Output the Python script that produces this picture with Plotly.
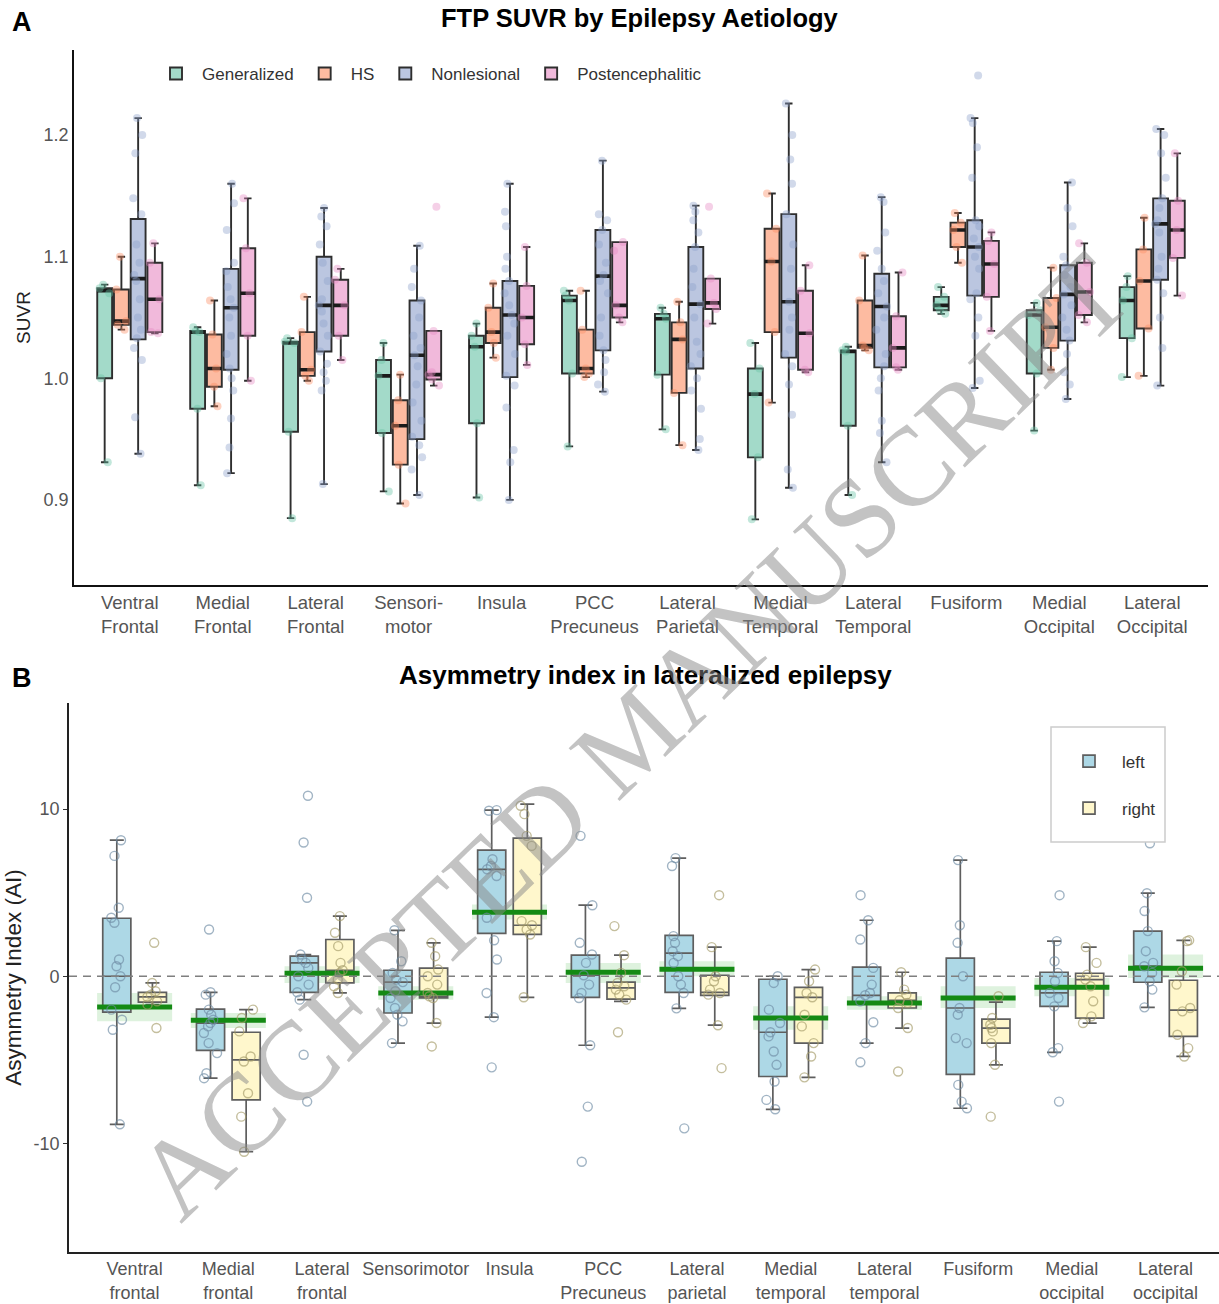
import plotly.graph_objects as go

W, H = 1219, 1304

# ---------------- Panel A data ----------------
top_labels = ["Ventral<br>Frontal", "Medial<br>Frontal", "Lateral<br>Frontal", "Sensori-<br>motor",
              "Insula", "PCC<br>Precuneus", "Lateral<br>Parietal", "Medial<br>Temporal",
              "Lateral<br>Temporal", "Fusiform", "Medial<br>Occipital", "Lateral<br>Occipital"]
groups = ["Generalized", "HS", "Nonlesional", "Postencephalitic"]

gen_lf = [0.931, 0.912, 0.885, 0.907, 0.902, 0.944, 0.958, 0.884, 0.904, 1.053, 0.957, 1.001]
gen_q1 = [1.000, 0.975, 0.956, 0.955, 0.963, 1.004, 1.003, 0.935, 0.961, 1.056, 1.004, 1.033]
gen_md = [1.072, 1.038, 1.029, 1.002, 1.026, 1.064, 1.049, 0.987, 1.022, 1.060, 1.052, 1.064]
gen_q3 = [1.074, 1.039, 1.030, 1.015, 1.035, 1.068, 1.053, 1.008, 1.023, 1.067, 1.056, 1.075]
gen_uf = [1.077, 1.042, 1.033, 1.029, 1.045, 1.072, 1.058, 1.029, 1.026, 1.075, 1.062, 1.084]

hs_lf = [1.040, 0.977, 0.998, 0.897, 1.017, 1.001, 0.945, 0.980, 1.023, 1.095, 1.007, 1.002]
hs_q1 = [1.044, 0.993, 1.002, 0.929, 1.029, 1.004, 0.988, 1.038, 1.025, 1.108, 1.025, 1.041]
hs_md = [1.047, 1.008, 1.007, 0.961, 1.038, 1.008, 1.032, 1.096, 1.027, 1.122, 1.042, 1.080]
hs_q3 = [1.073, 1.036, 1.038, 0.982, 1.058, 1.040, 1.046, 1.123, 1.064, 1.128, 1.066, 1.106]
hs_uf = [1.100, 1.064, 1.067, 1.003, 1.078, 1.072, 1.063, 1.152, 1.101, 1.136, 1.091, 1.132]

non_lf = [0.938, 0.922, 0.913, 0.904, 0.900, 0.989, 0.941, 0.910, 0.931, 0.992, 0.983, 0.994]
non_q1 = [1.032, 1.007, 1.022, 0.950, 1.001, 1.023, 1.008, 1.017, 1.009, 1.068, 1.031, 1.081]
non_md = [1.082, 1.058, 1.060, 1.019, 1.052, 1.084, 1.061, 1.063, 1.059, 1.108, 1.069, 1.127]
non_q3 = [1.131, 1.090, 1.100, 1.064, 1.080, 1.122, 1.108, 1.135, 1.086, 1.130, 1.093, 1.148]
non_uf = [1.214, 1.160, 1.140, 1.109, 1.160, 1.179, 1.142, 1.226, 1.149, 1.214, 1.161, 1.205]

post_lf = [1.037, 0.998, 1.015, 0.994, 1.011, 1.046, 1.045, 1.005, 1.007, 1.039, 1.046, 1.068]
post_q1 = [1.038, 1.035, 1.035, 0.999, 1.028, 1.050, 1.057, 1.007, 1.009, 1.067, 1.052, 1.099]
post_md = [1.065, 1.070, 1.060, 1.003, 1.050, 1.060, 1.062, 1.037, 1.025, 1.094, 1.071, 1.122]
post_q3 = [1.095, 1.107, 1.081, 1.039, 1.076, 1.112, 1.082, 1.072, 1.051, 1.113, 1.095, 1.146]
post_uf = [1.111, 1.148, 1.090, 1.039, 1.108, 1.112, 1.082, 1.093, 1.087, 1.120, 1.111, 1.185]

gen_pts = [[0.931, 1.000, 1.070, 1.074, 1.077], [0.912, 0.975, 1.038, 1.039, 1.042],
           [0.885, 0.956, 1.029, 1.030, 1.033], [0.907, 0.955, 1.002, 1.015, 1.029],
           [0.902, 0.963, 1.026, 1.035, 1.045], [0.944, 1.004, 1.064, 1.068, 1.072],
           [0.958, 1.003, 1.049, 1.053, 1.058], [0.884, 0.935, 0.987, 1.008, 1.029],
           [0.904, 0.961, 1.022, 1.023, 1.026], [1.053, 1.056, 1.060, 1.067, 1.075],
           [0.957, 1.004, 1.052, 1.056, 1.062], [1.001, 1.033, 1.064, 1.075, 1.084]]
hs_pts = [[1.040, 1.044, 1.047, 1.073, 1.100], [0.977, 0.993, 1.008, 1.036, 1.064],
          [0.998, 1.002, 1.007, 1.038, 1.067], [0.897, 0.929, 0.961, 0.982, 1.003],
          [1.017, 1.029, 1.038, 1.058, 1.078], [1.001, 1.004, 1.008, 1.040, 1.072],
          [0.945, 0.988, 1.032, 1.046, 1.063], [0.980, 1.038, 1.096, 1.123, 1.152],
          [1.023, 1.025, 1.027, 1.064, 1.101], [1.095, 1.108, 1.122, 1.128, 1.136],
          [1.007, 1.025, 1.042, 1.066, 1.091], [1.002, 1.041, 1.080, 1.106, 1.132]]
non_pts = [[1.214, 1.200, 1.185, 1.148, 1.135, 1.110, 1.095, 1.085, 1.080, 1.065, 1.050, 1.040, 1.033, 1.025, 1.015, 0.968, 0.938],
           [1.160, 1.144, 1.122, 1.095, 1.088, 1.075, 1.065, 1.058, 1.050, 1.035, 1.020, 1.008, 1.000, 0.990, 0.967, 0.943, 0.922],
           [1.140, 1.133, 1.125, 1.110, 1.095, 1.080, 1.065, 1.060, 1.055, 1.045, 1.035, 1.022, 1.012, 1.005, 0.998, 0.990, 0.913],
           [1.109, 1.090, 1.075, 1.064, 1.050, 1.035, 1.025, 1.019, 1.010, 0.995, 0.980, 0.965, 0.952, 0.945, 0.935, 0.925, 0.904],
           [1.160, 1.137, 1.125, 1.100, 1.090, 1.080, 1.070, 1.060, 1.052, 1.045, 1.035, 1.020, 1.002, 0.994, 0.976, 0.941, 0.931, 0.900],
           [1.179, 1.135, 1.130, 1.122, 1.110, 1.095, 1.085, 1.080, 1.070, 1.050, 1.035, 1.023, 1.015, 1.005, 0.995, 0.989],
           [1.142, 1.137, 1.130, 1.120, 1.108, 1.090, 1.075, 1.061, 1.050, 1.030, 1.020, 1.010, 1.000, 0.990, 0.975, 0.950, 0.941],
           [1.226, 1.200, 1.180, 1.160, 1.135, 1.110, 1.090, 1.063, 1.050, 1.040, 1.020, 1.010, 0.995, 0.970, 0.925, 0.910],
           [1.149, 1.145, 1.120, 1.105, 1.090, 1.080, 1.070, 1.059, 1.050, 1.040, 1.020, 1.010, 1.000, 0.990, 0.965, 0.955, 0.931],
           [1.249, 1.214, 1.210, 1.190, 1.165, 1.130, 1.125, 1.115, 1.108, 1.100, 1.090, 1.070, 1.065, 1.050, 1.035, 0.998, 0.992],
           [1.161, 1.140, 1.125, 1.100, 1.093, 1.085, 1.075, 1.069, 1.060, 1.050, 1.040, 1.031, 1.020, 1.005, 0.995, 0.983],
           [1.205, 1.200, 1.185, 1.165, 1.148, 1.140, 1.130, 1.127, 1.120, 1.100, 1.090, 1.081, 1.070, 1.050, 1.025, 0.994]]
post_pts = [[1.037, 1.038, 1.065, 1.095, 1.111], [0.998, 1.035, 1.070, 1.107, 1.148],
            [1.015, 1.035, 1.060, 1.081, 1.090], [0.994, 0.999, 1.003, 1.005, 1.039, 1.141],
            [1.011, 1.028, 1.050, 1.076, 1.108], [1.046, 1.050, 1.060, 1.105, 1.112],
            [1.045, 1.057, 1.062, 1.082, 1.141], [1.005, 1.007, 1.037, 1.072, 1.093],
            [1.007, 1.009, 1.025, 1.051, 1.087], [1.039, 1.067, 1.094, 1.113, 1.120],
            [1.046, 1.052, 1.071, 1.095, 1.111], [1.068, 1.099, 1.122, 1.146, 1.185]]

top_yticks = [0.9, 1.0, 1.1, 1.2]

# ---------------- Panel B data ----------------
bot_labels = ["Ventral<br>frontal", "Medial<br>frontal", "Lateral<br>frontal", "Sensorimotor",
              "Insula", "PCC<br>Precuneus", "Lateral<br>parietal", "Medial<br>temporal",
              "Lateral<br>temporal", "Fusiform", "Medial<br>occipital", "Lateral<br>occipital"]
sides = ["left", "right"]

left_lf = [-8.86, -6.1, -1.4, -4.0, -2.45, -4.13, -1.92, -7.96, -4.0, -7.9, -4.55, -1.86]
left_q1 = [-2.15, -4.43, -0.96, -2.2, 2.57, -1.26, -0.96, -6.0, -1.6, -5.87, -1.8, -0.36]
left_md = [0.0, -2.8, 0.8, -0.35, 6.4, 0.06, 1.38, -3.35, -1.14, -1.9, -1.0, 0.6]
left_q3 = [3.47, -1.97, 1.2, 0.36, 7.55, 1.26, 2.45, -0.18, 0.54, 1.08, 0.24, 2.7]
left_uf = [8.14, -0.96, 1.3, 2.75, 9.94, 4.25, 7.07, 0.0, 3.35, 6.95, 2.1, 4.97]

right_lf = [-1.7, -10.5, -1.0, -2.8, -1.26, -1.5, -2.93, -6.05, -3.1, -5.3, -2.8, -4.8]
right_q1 = [-1.55, -7.4, -0.4, -1.3, 2.5, -1.37, -1.14, -4.0, -1.9, -4.0, -2.5, -3.6]
right_md = [-1.24, -5.0, 0.36, -1.2, 3.05, -0.7, -0.96, -1.26, -1.44, -3.1, -0.2, -2.03]
right_q3 = [-0.96, -3.35, 2.2, 0.48, 8.26, -0.35, 0.06, -0.66, -1.0, -2.57, 0.18, -0.24]
right_uf = [-0.4, -2.0, 3.6, 2.0, 10.3, 1.26, 1.74, 0.4, 0.24, -1.55, 1.74, 2.15]

left_pts = [[8.14, 7.2, 4.1, 3.5, 3.2, 1.0, 0.6, 0.0, -0.66, -2.0, -2.6, -3.2, -8.86],
            [2.8, -0.96, -1.1, -2.0, -2.3, -2.6, -2.8, -3.0, -3.4, -4.0, -4.6, -5.8, -6.1],
            [10.8, 8.0, 4.7, 1.3, 1.0, 0.8, 0.5, 0.0, -0.5, -0.96, -1.4, -4.7, -7.5],
            [2.75, 0.9, 0.2, -0.2, -0.35, -0.9, -1.3, -1.9, -2.3, -2.7, -4.0],
            [9.94, 9.9, 7.0, 6.6, 6.4, 6.0, 3.5, 2.15, 1.0, -1.0, -2.45, -5.45],
            [8.4, 4.25, 2.0, 1.3, 0.8, 0.06, -0.5, -1.0, -1.3, -4.13, -7.8, -11.1],
            [7.07, 6.6, 2.4, 2.0, 1.5, 1.2, 0.8, 0.0, -0.5, -1.0, -1.92, -9.1],
            [0.0, -0.4, -2.0, -2.8, -3.35, -3.6, -4.5, -5.3, -6.3, -7.4, -7.96],
            [4.85, 3.35, 2.2, 0.5, -0.5, -1.0, -1.14, -1.5, -2.75, -4.0, -5.15],
            [6.95, 3.05, 2.0, 0.0, -1.9, -2.3, -3.7, -4.0, -6.5, -7.5, -7.9],
            [4.85, 2.1, 0.9, 0.2, -0.3, -1.0, -1.3, -1.8, -4.3, -4.55, -7.5],
            [7.96, 4.97, 3.9, 2.7, 1.5, 0.8, 0.6, 0.2, -0.3, -0.8, -1.86]]
right_pts = [[2.0, -0.4, -0.9, -1.1, -1.24, -1.5, -1.7, -3.1],
             [-2.0, -2.5, -3.3, -4.8, -5.1, -7.0, -8.4, -10.5],
             [3.6, 2.6, 1.8, 0.8, 0.36, 0.2, -0.2, -0.6, -1.0],
             [2.0, 1.2, 0.4, 0.0, -0.5, -1.0, -1.2, -1.3, -2.8, -4.2],
             [10.2, 9.7, 8.4, 7.8, 3.3, 3.05, 2.8, 2.5, -1.26],
             [3.0, 1.26, 0.2, -0.4, -0.6, -0.8, -1.1, -1.4, -3.35],
             [4.85, 1.74, 0.0, -0.3, -0.8, -1.0, -1.1, -2.93, -5.5],
             [0.4, -0.3, -1.0, -1.26, -2.3, -3.0, -4.0, -4.8, -6.05],
             [0.24, -0.8, -1.1, -1.44, -1.6, -1.9, -3.1, -5.7],
             [-1.2, -2.5, -2.9, -3.1, -3.3, -4.0, -5.3, -8.4],
             [1.74, 0.8, 0.1, -0.2, -0.6, -1.5, -2.4, -2.8],
             [2.15, 2.1, 0.3, -0.5, -1.9, -2.1, -3.5, -4.3, -4.8]]

ai_mean = [-1.84, -2.63, 0.18, -1.0, 3.83, 0.24, 0.42, -2.5, -1.6, -1.3, -0.66, 0.48]
ai_lo = [-2.7, -3.1, -0.4, -1.4, 3.4, -0.4, 0.0, -3.2, -2.0, -1.9, -1.2, -0.1]
ai_hi = [-1.0, -2.2, 0.6, -0.6, 4.3, 0.8, 0.9, -1.8, -1.2, -0.6, -0.1, 1.3]

bot_yticks = [-10, 0, 10]

# ---------------- styling ----------------
FONT = "Liberation Sans, Arial, Helvetica, sans-serif"
top_fill = ["rgba(102,194,165,0.6)", "rgba(252,141,98,0.6)", "rgba(141,160,203,0.6)", "rgba(231,138,195,0.6)"]
top_pt = ["rgb(102,194,165)", "rgb(252,141,98)", "rgb(141,160,203)", "rgb(231,138,195)"]
top_off = [-0.27, -0.09, 0.09, 0.27]
top_w = 0.16
bot_fill = ["#ADD8E6", "#FFF7CC"]
bot_pt = ["rgba(110,140,165,0.65)", "rgba(165,155,105,0.65)"]
bot_off = [-0.19, 0.19]
bot_w = 0.30

n = len(top_labels)
pos = list(range(1, n + 1))

fig = go.Figure()

top_stats = [(gen_lf, gen_q1, gen_md, gen_q3, gen_uf, gen_pts),
             (hs_lf, hs_q1, hs_md, hs_q3, hs_uf, hs_pts),
             (non_lf, non_q1, non_md, non_q3, non_uf, non_pts),
             (post_lf, post_q1, post_md, post_q3, post_uf, post_pts)]

for g, (lf, q1, md, q3, uf, pts) in enumerate(top_stats):
    xs = [p + top_off[g] for p in pos]
    fig.add_trace(go.Box(x=xs, q1=q1, median=md, q3=q3, lowerfence=lf, upperfence=uf,
                         width=top_w, name=groups[g], fillcolor=top_fill[g],
                         line=dict(color="#2e2e2e", width=1.9), boxpoints=False,
                         xaxis="x", yaxis="y", legend="legend", hoverinfo="skip"))
    # thicker median bar
    fig.add_trace(go.Box(x=xs, q1=md, median=md, q3=md, lowerfence=md, upperfence=md,
                         width=top_w, fillcolor="rgba(0,0,0,0)",
                         line=dict(color="#1a1a1a", width=3.6), boxpoints=False,
                         showlegend=False, xaxis="x", yaxis="y", hoverinfo="skip"))
    px_ = [p + top_off[g] for p, lst in zip(pos, pts) for _ in lst]
    py_ = [v for lst in pts for v in lst]
    fig.add_trace(go.Box(x=px_, y=py_, width=top_w, boxpoints="all", jitter=0.8, pointpos=0,
                         fillcolor="rgba(0,0,0,0)", line=dict(color="rgba(0,0,0,0)", width=0),
                         marker=dict(color=top_pt[g], opacity=0.4, size=8),
                         showlegend=False, xaxis="x", yaxis="y", hoverinfo="skip"))

bot_stats = [(left_lf, left_q1, left_md, left_q3, left_uf, left_pts),
             (right_lf, right_q1, right_md, right_q3, right_uf, right_pts)]

for s, (lf, q1, md, q3, uf, pts) in enumerate(bot_stats):
    xs = [p + bot_off[s] for p in pos]
    fig.add_trace(go.Box(x=xs, q1=q1, median=md, q3=q3, lowerfence=lf, upperfence=uf,
                         width=bot_w, name=sides[s], fillcolor=bot_fill[s],
                         line=dict(color="#5e5e5e", width=1.7), boxpoints=False,
                         legendgroup=sides[s], legend="legend2",
                         xaxis="x2", yaxis="y2", hoverinfo="skip"))

# CI band and mean line
fig.add_trace(go.Bar(x=pos, y=[h - l for h, l in zip(ai_hi, ai_lo)], base=ai_lo, width=0.8,
                     marker=dict(color="rgba(90,190,90,0.2)", line=dict(width=0)),
                     showlegend=False, xaxis="x2", yaxis="y2", hoverinfo="skip"))
fig.add_trace(go.Box(x=pos, q1=ai_mean, median=ai_mean, q3=ai_mean, lowerfence=ai_mean,
                     upperfence=ai_mean, width=0.8, fillcolor="rgba(0,0,0,0)",
                     line=dict(color="#148a14", width=5), boxpoints=False, showlegend=False,
                     xaxis="x2", yaxis="y2", hoverinfo="skip"))

for s, (lf, q1, md, q3, uf, pts) in enumerate(bot_stats):
    px_ = [p + bot_off[s] for p, lst in zip(pos, pts) for _ in lst]
    py_ = [v for lst in pts for v in lst]
    fig.add_trace(go.Box(x=px_, y=py_, width=bot_w, boxpoints="all", jitter=0.55, pointpos=0,
                         fillcolor="rgba(0,0,0,0)", line=dict(color="rgba(0,0,0,0)", width=0),
                         marker=dict(symbol="circle-open", color=bot_pt[s], size=9,
                                     line=dict(width=1.4, color=bot_pt[s])),
                         showlegend=False, xaxis="x2", yaxis="y2", hoverinfo="skip"))

# zero reference line
fig.add_shape(type="line", xref="x2 domain", yref="y2", x0=0, x1=1, y0=0, y1=0,
              line=dict(color="#7f7f7f", width=1.6, dash="8px,6px"), layer="above")
# legend frame for panel B
fig.add_shape(type="rect", xref="paper", yref="paper", x0=1051 / W, x1=1165 / W,
              y0=1 - 842 / H, y1=1 - 727 / H,
              line=dict(color="#cccccc", width=1.5), fillcolor="white", layer="above")

axis_common = dict(showgrid=False, zeroline=False, showline=True, mirror=False)

fig.update_layout(
    width=W, height=H, margin=dict(l=0, r=0, t=0, b=0),
    paper_bgcolor="white", plot_bgcolor="white",
    font=dict(family=FONT, color="#333333"),
    boxmode="overlay", barmode="overlay",
    xaxis=dict(domain=[74 / W, 1208 / W], range=[0.4, 12.6], tickmode="array", tickvals=pos,
               ticktext=top_labels, tickangle=0, ticks="", anchor="y",
               tickfont=dict(size=18.5, color="#555555"), linecolor="#111111", linewidth=1.7,
               **axis_common),
    yaxis=dict(domain=[1 - 585 / H, 1 - 50 / H], range=[0.83, 1.27], tickmode="array",
               tickvals=top_yticks, ticktext=["0.9", "1.0", "1.1", "1.2"], ticks="",
               anchor="x", tickfont=dict(size=18, color="#555555"),
               title=dict(text="SUVR", font=dict(size=19, color="#222222"), standoff=8),
               linecolor="#111111", linewidth=1.7, **axis_common),
    xaxis2=dict(domain=[69 / W, 1.0], range=[0.3, 12.57], tickmode="array", tickvals=pos,
                ticktext=bot_labels, tickangle=0, ticks="", anchor="y2",
                tickfont=dict(size=18, color="#555555"), linecolor="#222222", linewidth=1.7,
                **axis_common),
    yaxis2=dict(domain=[1 - 1252 / H, 1 - 703 / H], range=[-16.5, 16.35], tickmode="array",
                tickvals=bot_yticks, ticktext=["-10", "0", "10"], ticks="outside", ticklen=4,
                tickcolor="#333333", anchor="x2", tickfont=dict(size=18, color="#555555"),
                title=dict(text="Asymmetry Index (AI)", font=dict(size=22.5, color="#222222"),
                           standoff=6),
                linecolor="#222222", linewidth=1.7, **axis_common),
    legend=dict(orientation="h", x=150 / W, y=1 - 74 / H, xanchor="left", yanchor="middle",
                font=dict(size=17, color="#333333"), bgcolor="rgba(0,0,0,0)", itemwidth=42),
    legend2=dict(x=1056 / W, y=1 - 785 / H, xanchor="left", yanchor="middle",
                 font=dict(size=17, color="#333333"), bgcolor="rgba(0,0,0,0)",
                 borderwidth=0, traceorder="grouped", tracegroupgap=22, itemwidth=56),
    showlegend=True,
)

annos = [
    dict(text="<b>A</b>", x=10 / W, y=1 - 22 / H, xanchor="left", yanchor="middle",
         font=dict(size=27, color="#000000")),
    dict(text="<b>FTP SUVR by Epilepsy Aetiology</b>", x=640 / W, y=1 - 18 / H,
         xanchor="center", yanchor="middle", font=dict(size=25.5, color="#000000")),
    dict(text="<b>B</b>", x=10 / W, y=1 - 678 / H, xanchor="left", yanchor="middle",
         font=dict(size=27, color="#000000")),
    dict(text="<b>Asymmetry index in lateralized epilepsy</b>", x=645 / W, y=1 - 675 / H,
         xanchor="center", yanchor="middle", font=dict(size=26, color="#000000")),
    dict(text="ACCEPTED MANUSCRIPT", x=632 / W, y=1 - 736 / H, xanchor="center",
         yanchor="middle", textangle=-44,
         font=dict(size=112, family="Liberation Serif, Times New Roman, serif",
                   color="rgba(135,135,135,0.5)")),
]
for a in annos:
    a.update(xref="paper", yref="paper", showarrow=False)
fig.update_layout(annotations=annos)

fig.write_html("out.html")
